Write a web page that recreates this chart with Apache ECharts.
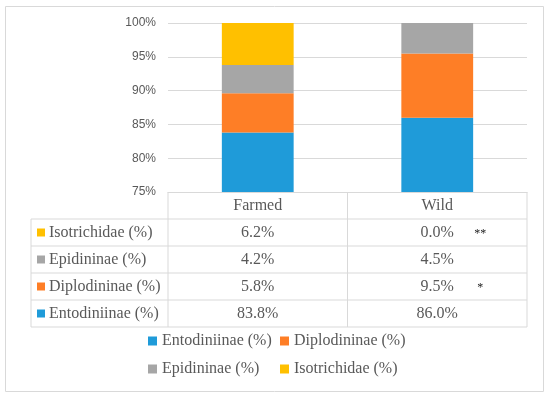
<!DOCTYPE html>
<html><head><meta charset="utf-8">
<script src="https://cdn.jsdelivr.net/npm/echarts@6/dist/echarts.min.js"></script>
<style>html,body{margin:0;padding:0;background:#fff}#c{width:550px;height:397px}</style>
</head><body><div id="c"></div>
<script>
const categories = ['Farmed', 'Wild'];
const seriesNames = ['Entodiniinae (%)', 'Diplodininae (%)', 'Epidininae (%)', 'Isotrichidae (%)'];
const entodiniinae = [83.8, 86.0];
const diplodininae = [5.8, 9.5];
const epidininae = [4.2, 4.5];
const isotrichidae = [6.2, 0.0];
const colors = ['#1f9bd9', '#fe7e26', '#a6a6a6', '#ffc000'];
const yTicks = [75, 80, 85, 90, 95, 100];
const significance = ['**', '', '*', '']; // per table row (top to bottom), Wild column

const seriesData = [entodiniinae, diplodininae, epidininae, isotrichidae];
// table rows top to bottom
const rowOrder = [3, 2, 1, 0];
const serif = '"Liberation Serif", "DejaVu Serif", serif';
const textColor = '#595959';
const lineColor = '#d9d9d9';
const fs = 16;

const chart = echarts.init(document.getElementById('c'));
chart.setOption({
  animation: false,
  grid: { left: 168, right: 23, top: 23, bottom: 205 },
  xAxis: {
    type: 'category', data: categories,
    axisLine: { lineStyle: { color: lineColor } },
    axisTick: { show: false },
    axisLabel: {
      interval: 0, margin: 0, color: textColor, fontFamily: serif, fontSize: fs, lineHeight: 27,
      formatter: (v, i) => [v].concat(rowOrder.map(k => seriesData[k][i].toFixed(1) + '%')).join('\n')
    }
  },
  yAxis: {
    type: 'value', min: yTicks[0], max: yTicks[yTicks.length - 1], interval: 5,
    axisLine: { show: false }, axisTick: { show: false },
    splitLine: { lineStyle: { color: lineColor } },
    axisLabel: { color: textColor, fontFamily: '"Liberation Sans", sans-serif', fontSize: 12, margin: 12, formatter: v => v + '%' }
  },
  legend: [
    { data: [seriesNames[0], seriesNames[2]], orient: 'vertical', left: 148, top: 333, padding: 0, itemWidth: 9, itemHeight: 9, itemGap: 12, icon: 'rect',
      textStyle: { color: textColor, fontFamily: serif, fontSize: fs } },
    { data: [seriesNames[1], seriesNames[3]], orient: 'vertical', left: 280, top: 333, padding: 0, itemWidth: 9, itemHeight: 9, itemGap: 12, icon: 'rect',
      textStyle: { color: textColor, fontFamily: serif, fontSize: fs } }
  ],
  series: seriesNames.map((n, k) => ({
    name: n, type: 'bar', stack: 'total', data: seriesData[k], barWidth: '40%',
    itemStyle: { color: colors[k] }
  }))
});

// Data table built from the axes
const c0 = chart.convertToPixel({ xAxisIndex: 0 }, categories[0]);
const c1 = chart.convertToPixel({ xAxisIndex: 0 }, categories[1]);
const half = (c1 - c0) / 2;
const xLeft = c0 - half, xMid = c0 + half, xRight = c1 + half;
const yAxisPx = chart.convertToPixel({ yAxisIndex: 0 }, yTicks[0]);
const rowH = 27, labelLeft = 31;
const g = [];
const L = (x1, y1, x2, y2) => g.push({ type: 'line', silent: true, shape: { x1, y1, x2, y2 }, style: { stroke: lineColor, lineWidth: 1 } });
const bottom = yAxisPx + rowH * 5;
[xLeft, xMid, xRight].forEach(x => L(x, yAxisPx, x, bottom));
L(labelLeft, yAxisPx + rowH, labelLeft, bottom);
for (let r = 1; r <= 5; r++) L(labelLeft, yAxisPx + rowH * r, xRight, yAxisPx + rowH * r);
rowOrder.forEach((k, r) => {
  const cy = yAxisPx + rowH * (r + 1.5);
  g.push({ type: 'rect', silent: true, shape: { x: 37, y: cy - 4, width: 8, height: 8 }, style: { fill: colors[k] } });
  g.push({ type: 'text', silent: true, x: 49, y: cy, style: { text: seriesNames[k], fill: textColor, font: fs + 'px ' + serif, verticalAlign: 'middle', align: 'left' } });
  if (significance[r]) g.push({ type: 'text', silent: true, x: c1 + 43, y: cy + 1, style: { text: significance[r], fill: '#222', font: '12px ' + serif, verticalAlign: 'middle', align: 'center' } });
});
g.push({ type: 'rect', silent: true, shape: { x: 5.5, y: 6.5, width: 538, height: 385 }, style: { fill: 'none', stroke: lineColor, lineWidth: 1 } });
chart.setOption({ graphic: g });
</script></body></html>
